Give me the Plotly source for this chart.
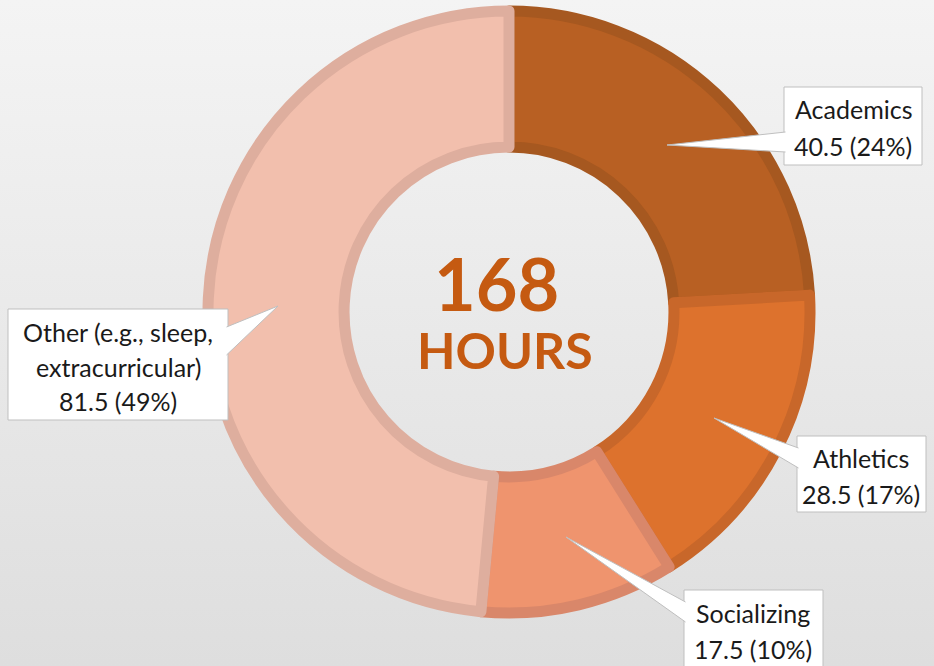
import base64
import plotly.graph_objects as go

# ---- data ----
categories = ["Academics", "Athletics", "Socializing", "Other (e.g., sleep, extracurricular)"]
label_lines = [["Academics"], ["Athletics"], ["Socializing"], ["Other (e.g., sleep,", "extracurricular)"]]
hours = [40.5, 28.5, 17.5, 81.5]
center_unit = "HOURS"

fill_colors = ["#B86023", "#DD722D", "#EF946E", "#F2BFAD"]
edge_colors = ["#A65820", "#C8672A", "#D9876A", "#DEAE9E"]

W, H = 934, 666
total = sum(hours)


def px(x):
    return x / W


def py(y):
    return 1 - y / H


# pie geometry (pixels)
cx, cy, R = 509, 312, 301
fig = go.Figure()
fig.add_trace(go.Pie(
    labels=categories, values=hours, sort=False, direction="clockwise", rotation=0,
    hole=0.548, textinfo="none", hoverinfo="label+value+percent", showlegend=False,
    marker=dict(colors=fill_colors, line=dict(color=edge_colors, width=11)),
    domain=dict(x=[px(cx - R), px(cx + R)], y=[py(cy + R), py(cy - R)]),
))

# callout layout: box (x0, y0, x1, y1), text centre x, line centre ys, wedge tip, wedge base ys, side
callouts = [
    dict(box=(784, 87, 922, 165), tx=853, ly=[109, 146], tip=(667, 145), base=(132, 152), side="left"),
    dict(box=(797, 436, 926, 512), tx=861, ly=[458, 494], tip=(714, 418), base=(448, 468), side="left"),
    dict(box=(684, 590, 823, 668), tx=753, ly=[613, 649], tip=(566, 537), base=(602, 622), side="left"),
    dict(box=(8, 309, 228, 420), tx=118, ly=[332, 367, 401], tip=(278, 306), base=(327, 355), side="right"),
]

shapes = []
annotations = []
for i, c in enumerate(callouts):
    x0, y0, x1, y1 = c["box"]
    shapes.append(dict(type="rect", xref="paper", yref="paper",
                       x0=px(x0), x1=px(x1), y0=py(y1), y1=py(y0),
                       fillcolor="white", line=dict(color="#BFBFBF", width=1)))
    ex = x0 + 1.5 if c["side"] == "left" else x1 - 1.5
    tx_, ty_ = c["tip"]
    b1, b2 = c["base"]
    path = f"M {px(ex)},{py(b1)} L {px(tx_)},{py(ty_)} L {px(ex)},{py(b2)}"
    shapes.append(dict(type="path", xref="paper", yref="paper", path=path,
                       fillcolor="white", line=dict(color="#BFBFBF", width=1)))
    pct = hours[i] / total * 100
    lines = label_lines[i] + [f"{hours[i]:g} ({pct:.0f}%)"]
    for txt, ly in zip(lines, c["ly"]):
        annotations.append(dict(text=txt, xref="paper", yref="paper", x=px(c["tx"]), y=py(ly),
                                xanchor="center", yanchor="middle", showarrow=False,
                                font=dict(family="Lato, 'Open Sans', sans-serif", size=25, color="#1A1A1A")))

# centre text
annotations.append(dict(text=f"<b>{total:g}</b>", xref="paper", yref="paper", x=px(496), y=py(283),
                        xanchor="center", yanchor="middle", showarrow=False,
                        font=dict(family="Lato, sans-serif", size=72, color="#C55A11")))
annotations.append(dict(text=f"<b>{center_unit}</b>", xref="paper", yref="paper", x=px(505), y=py(350),
                        xanchor="center", yanchor="middle", showarrow=False,
                        font=dict(family="Lato, sans-serif", size=50, color="#C55A11")))

# background gradient
svg = ('<svg xmlns="http://www.w3.org/2000/svg" width="100" height="100" preserveAspectRatio="none">'
       '<defs><linearGradient id="g" x1="0" y1="0" x2="0" y2="1">'
       '<stop offset="0" stop-color="#F4F4F4"/><stop offset="1" stop-color="#DEDEDE"/>'
       '</linearGradient></defs><rect width="100" height="100" fill="url(#g)"/></svg>')
src = "data:image/svg+xml;base64," + base64.b64encode(svg.encode()).decode()

fig.update_layout(
    width=W, height=H, margin=dict(l=0, r=0, t=0, b=0),
    paper_bgcolor="#EAEAEA", plot_bgcolor="rgba(0,0,0,0)",
    images=[dict(source=src, xref="paper", yref="paper", x=0, y=1, sizex=1, sizey=1,
                 sizing="stretch", layer="below", xanchor="left", yanchor="top")],
    shapes=shapes, annotations=annotations,
)

fig.write_html("out.html", config={"displayModeBar": False},
               post_script="document.body.style.margin='0';document.body.style.overflow='hidden';")
